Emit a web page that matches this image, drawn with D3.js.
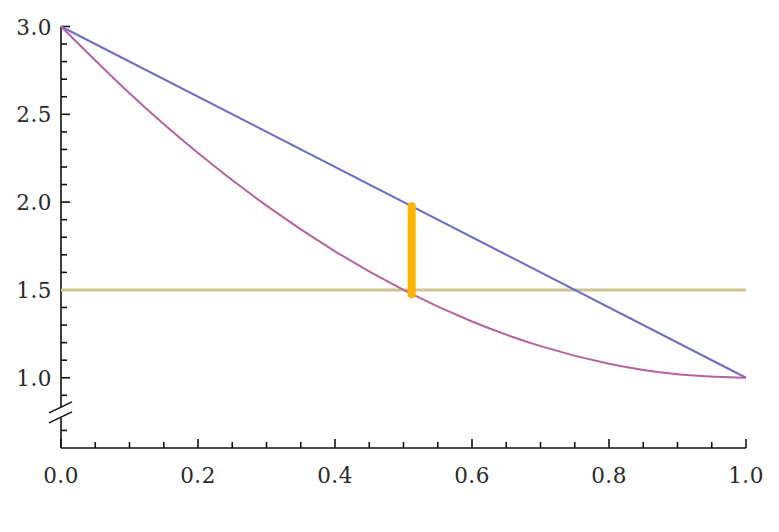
<!DOCTYPE html>
<html>
<head>
<meta charset="utf-8">
<script src="https://cdn.jsdelivr.net/npm/d3@7"></script>
<style>
    body { margin: 0; background: #fff; }
    text { font-family: "DejaVu Serif", serif; font-size: 21.5px; fill: #2a2a2a; letter-spacing: 0.5px; }
</style>
</head>
<body>
<div id="chart"></div>
<script>
// values
let lineX = [0, 1];
let lineY = [3, 1];
let curveX = [0, 0.1, 0.2, 0.3, 0.4, 0.5, 0.6, 0.7, 0.8, 0.9, 1.0];
let curveY = [3, 2.62, 2.28, 1.98, 1.72, 1.5, 1.32, 1.18, 1.08, 1.02, 1.0];
let levelX = [0, 1];
let levelY = [1.5, 1.5];
let gapX = 0.512;
let gapY = [1.476, 1.976];
let xTickLabels = [0, 0.2, 0.4, 0.6, 0.8, 1.0];
let yTickLabels = [1.0, 1.5, 2.0, 2.5, 3.0];

// set the dimensions and margins of the graph
let margin = {top: 26.5, right: 33, bottom: 84, left: 61},
    width = 779 - margin.left - margin.right,
    height = 532 - margin.top - margin.bottom;

let svg = d3.select("#chart")
    .append("svg")
    .attr("width", 779)
    .attr("height", 532)
    .append("g")
    .attr("transform", "translate(" + margin.left + "," + margin.top + ")");

let x = d3.scaleLinear().domain([0, 1]).range([0, width]);
let y = d3.scaleLinear().domain([0.6, 3]).range([height, 0]);

// axes
let xMinor = d3.range(0, 1.0001, 0.05);
let yMinor = [0.7].concat(d3.range(0.9, 3.0001, 0.1));

let axes = svg.append("g").attr("stroke", "#111").attr("stroke-width", 1.6);
axes.append("line").attr("x1", 0).attr("x2", width).attr("y1", height).attr("y2", height);
axes.append("line").attr("x1", 0).attr("x2", 0).attr("y1", 0).attr("y2", height);

function isMajor(v, step) { return Math.abs(v / step - Math.round(v / step)) < 1e-6; }

axes.selectAll(".xt").data(xMinor).enter().append("line")
    .attr("x1", d => x(d)).attr("x2", d => x(d))
    .attr("y1", height).attr("y2", d => height - (isMajor(d, 0.2) ? 9 : 6));
axes.selectAll(".yt").data(yMinor).enter().append("line")
    .attr("y1", d => y(d)).attr("y2", d => y(d))
    .attr("x1", 0).attr("x2", d => (isMajor(d, 0.5) ? 9 : 6));

// axis break
let by = y(0.8);
svg.append("rect").attr("x", -3).attr("y", by - 5).attr("width", 6).attr("height", 10).attr("fill", "#fff");
[-5, 5].forEach(function(o) {
    svg.append("line")
        .attr("x1", -12).attr("y1", by + o + 5)
        .attr("x2", 11).attr("y2", by + o - 6)
        .attr("stroke", "#111").attr("stroke-width", 1.6);
});

// tick labels
svg.selectAll(".xl").data(xTickLabels).enter().append("text")
    .attr("x", d => x(d)).attr("y", height + 35)
    .attr("text-anchor", "middle")
    .text(d => d.toFixed(1));
svg.selectAll(".yl").data(yTickLabels).enter().append("text")
    .attr("x", -9).attr("y", d => y(d) + 8)
    .attr("text-anchor", "end")
    .text(d => d.toFixed(1));

// the lines
let line = d3.line().x(d => x(d[0])).y(d => y(d[1]));

svg.append("path")
    .datum(d3.zip(levelX, levelY))
    .attr("fill", "none").attr("stroke", "#cbc493").attr("stroke-width", 3)
    .attr("d", line);

svg.append("path")
    .datum(d3.zip(lineX, lineY))
    .attr("fill", "none").attr("stroke", "#6d6dc6").attr("stroke-width", 2)
    .attr("d", line);

svg.append("path")
    .datum(d3.zip(curveX, curveY))
    .attr("fill", "none").attr("stroke", "#b6649c").attr("stroke-width", 2)
    .attr("d", line.curve(d3.curveNatural));

svg.append("line")
    .attr("x1", x(gapX)).attr("x2", x(gapX))
    .attr("y1", y(gapY[0])).attr("y2", y(gapY[1]))
    .attr("stroke", "#ffb400").attr("stroke-width", 8).attr("stroke-linecap", "round");
</script>
</body>
</html>
